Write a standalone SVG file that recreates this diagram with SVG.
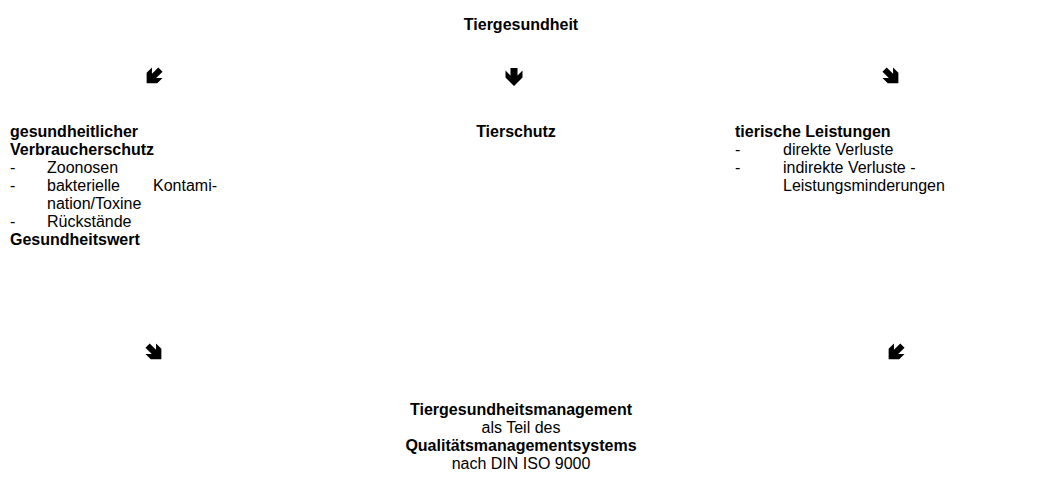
<svg xmlns="http://www.w3.org/2000/svg" width="1042" height="502" viewBox="0 0 1042 502">
<style>
text{font-family:"Liberation Sans",Arial,sans-serif;font-size:16px;fill:#000}
.b{font-weight:bold}
.c{text-anchor:middle}
.arr{fill:#000}
</style>
<defs>
<polygon id="dn" points="-3.5,-9 3.5,-9 3.5,-1.5 8.5,-6.5 8.5,0.5 0,9 -8.5,0.5 -8.5,-6.5 -3.5,-1.5"/>
<polygon id="dg" points="-3,-10.5 3,-10.5 3,-1.5 7.5,-6 7.5,1.5 0,9 -7.5,1.5 -7.5,-6 -3,-1.5"/>
</defs>
<rect width="1042" height="502" fill="#fff"/>
<g id="node-top"><text class="b c" x="521" y="30">Tiergesundheit</text></g>
<g id="connectors" class="arr">
<use href="#dg" transform="translate(153,77) rotate(45)"/>
<use href="#dn" transform="translate(514,77)"/>
<use href="#dg" transform="translate(892,77) rotate(-45)"/>
<use href="#dg" transform="translate(155,353) rotate(-45)"/>
<use href="#dg" transform="translate(895,353) rotate(45)"/>
</g>
<g id="node-left">
<text class="b" x="10" y="137">gesundheitlicher</text>
<text class="b" x="10" y="155">Verbraucherschutz</text>
<text x="10" y="173">-</text><text x="47" y="173">Zoonosen</text>
<text x="10" y="191">-</text><text x="47" y="191">bakterielle</text><text x="153" y="191">Kontami-</text>
<text x="47" y="209">nation/Toxine</text>
<text x="10" y="227">-</text><text x="47" y="227">Rückstände</text>
<text class="b" x="10" y="245">Gesundheitswert</text>
</g>
<g id="node-middle"><text class="b c" x="516" y="137">Tierschutz</text></g>
<g id="node-right">
<text class="b" x="735" y="137">tierische Leistungen</text>
<text x="735" y="155">-</text><text x="783" y="155">direkte Verluste</text>
<text x="735" y="173">-</text><text x="783" y="173">indirekte Verluste -</text>
<text x="783" y="191">Leistungsminderungen</text>
</g>
<g id="node-bottom">
<text class="b c" x="521" y="415">Tiergesundheitsmanagement</text>
<text class="c" x="521" y="433">als Teil des</text>
<text class="b c" x="521" y="451">Qualitätsmanagementsystems</text>
<text class="c" x="521" y="469">nach DIN ISO 9000</text>
</g>
</svg>
